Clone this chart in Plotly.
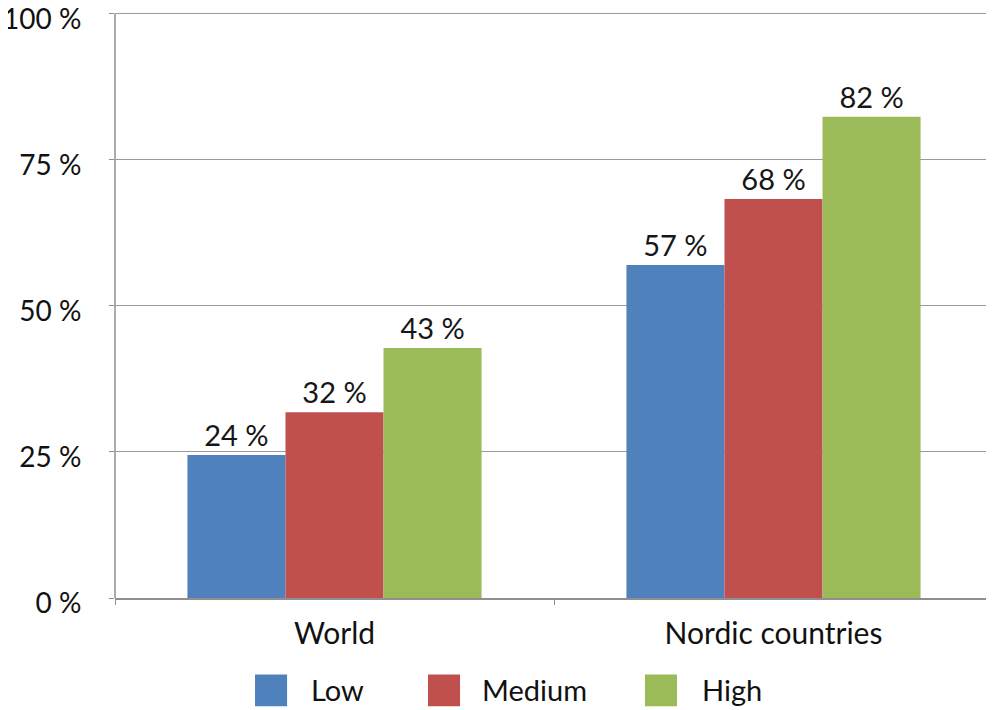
import plotly.graph_objects as go

categories = ["World", "Nordic countries"]
series_names = ["Low", "Medium", "High"]
low_values = [24.5, 57.0]
medium_values = [31.8, 68.3]
high_values = [42.8, 82.4]
low_labels = ["24 %", "57 %"]
medium_labels = ["32 %", "68 %"]
high_labels = ["43 %", "82 %"]
y_tick_values = [0, 25, 50, 75, 100]
y_tick_labels = ["0 %", "25 %", "50 %", "75 %", "100 %"]

colors = ["#4F81BD", "#C0504D", "#9BBB59"]
FONT = "Lato"

fig = go.Figure()
for name, vals, labels, col in zip(series_names, [low_values, medium_values, high_values],
                                   [low_labels, medium_labels, high_labels], colors):
    fig.add_trace(go.Bar(
        x=categories, y=vals, name=name, marker=dict(color=col, line=dict(width=0)),
        text=labels, textposition="outside", cliponaxis=False,
        textfont=dict(family=FONT, size=29, color="#161616"),
        showlegend=False,
    ))

fig.update_layout(
    width=986, height=702,
    margin=dict(l=107, r=1, t=0, b=112, autoexpand=False),
    paper_bgcolor="white", plot_bgcolor="white",
    barmode="group", bargap=0.33, bargroupgap=0,
    font=dict(family=FONT, size=28, color="#111"),
)
fig.update_xaxes(
    showline=True, linecolor="#8f8f8f", linewidth=1.5,
    ticks="outside", tickson="boundaries", ticklen=5, tickcolor="#8f8f8f",
    tickfont=dict(family=FONT, size=30, color="#111"),
    ticklabelstandoff=8,
    showgrid=False,
)
fig.update_yaxes(
    range=[0, 101], tickvals=y_tick_values, ticktext=y_tick_labels,
    showline=False,
    ticks="outside", ticklen=5, tickcolor="#8f8f8f",
    showgrid=True, gridcolor="#9a9a9a", gridwidth=1.3,
    zeroline=False, ticklabelstandoff=22, ticklabeloverflow="allow",
    ticklabelshift=5,
    tickfont=dict(family=FONT, size=28, color="#111"),
)
# y-axis line from 0 to 100 only (as in the reference)
fig.add_shape(type="line", xref="paper", yref="y", x0=0, x1=0, y0=0, y1=100,
              line=dict(color="#8f8f8f", width=1.5), layer="above")

# Manual legend
legend_items = [(0.1595, 0.221), (0.3565, 0.4157), (0.6036, 0.6663)]
for (sx, tx), name, col in zip(legend_items, series_names, colors):
    fig.add_shape(type="rect", xref="paper", yref="paper",
                  x0=sx, x1=sx + 0.0365, y0=-0.1835, y1=-0.1296,
                  fillcolor=col, line=dict(width=0))
    fig.add_annotation(xref="paper", yref="paper", x=tx, y=-0.155,
                       text=name, showarrow=False, xanchor="left", yanchor="middle",
                       font=dict(family=FONT, size=29, color="#111"))

fig.write_html("out.html")
